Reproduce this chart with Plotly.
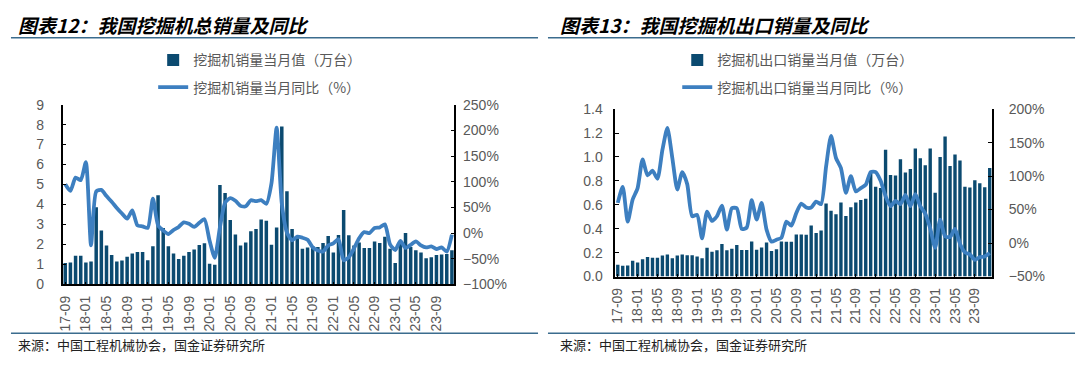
import plotly.graph_objects as go

# ---------------- data ----------------
months = [
    "17-09", "17-10", "17-11", "17-12",
    "18-01", "18-02", "18-03", "18-04", "18-05", "18-06", "18-07", "18-08", "18-09", "18-10", "18-11", "18-12",
    "19-01", "19-02", "19-03", "19-04", "19-05", "19-06", "19-07", "19-08", "19-09", "19-10", "19-11", "19-12",
    "20-01", "20-02", "20-03", "20-04", "20-05", "20-06", "20-07", "20-08", "20-09", "20-10", "20-11", "20-12",
    "21-01", "21-02", "21-03", "21-04", "21-05", "21-06", "21-07", "21-08", "21-09", "21-10", "21-11", "21-12",
    "22-01", "22-02", "22-03", "22-04", "22-05", "22-06", "22-07", "22-08", "22-09", "22-10", "22-11", "22-12",
    "23-01", "23-02", "23-03", "23-04", "23-05", "23-06", "23-07", "23-08", "23-09", "23-10", "23-11", "23-12",
]
tick_labels = months[::4]

# 挖掘机销量当月值（万台）
total_sales = [
    1.07, 1.10, 1.44, 1.44,
    1.10, 1.15, 3.86, 2.70, 1.95, 1.47, 1.15, 1.20, 1.39, 1.55, 1.63, 1.63,
    1.21, 1.91, 4.47, 2.82, 1.91, 1.55, 1.28, 1.44, 1.63, 1.75, 1.98, 2.06,
    1.04, 0.99, 4.98, 4.58, 3.22, 2.50, 1.95, 2.10, 2.66, 2.78, 3.25, 3.19,
    1.99, 2.85, 7.90, 4.66, 2.78, 2.31, 1.79, 1.85, 1.91, 1.87, 2.07, 2.42,
    1.60, 2.47, 3.73, 2.46, 1.95, 2.10, 1.83, 1.83, 2.15, 2.07, 2.39, 1.79,
    1.07, 2.03, 2.58, 1.87, 1.71, 1.60, 1.31, 1.36, 1.47, 1.50, 1.52, 1.71,
]
# 挖掘机销量当月同比（%）
total_yoy = [
    95, 82, 108, 103,
    138, -24, 81, 84, 72, 61, 49, 38, 28, 44, 15, 13,
    10, 67, 15, 5, -2, 6, 12, 21, 18, 12, 20, 27,
    -15, -48, 11, 59, 68, 63, 53, 52, 64, 62, 64, 57,
    97, 205, 58, 1, -14, -7, -9, -13, -28, -34, -36, -24,
    -20, -12, -53, -47, -30, -10, 2, 0, 10, 11, 17, -22,
    -33, -15, -29, -23, -16, -24, -28, -26, -31, -28, -36, -3,
]

# 挖掘机出口销量当月值（万台）
export_sales = [
    0.099, 0.090, 0.093, 0.133,
    0.117, 0.144, 0.163, 0.157, 0.157, 0.176, 0.184, 0.152, 0.176, 0.184, 0.179, 0.179,
    0.168, 0.152, 0.240, 0.208, 0.219, 0.272, 0.219, 0.232, 0.264, 0.221, 0.221, 0.293,
    0.224, 0.243, 0.285, 0.213, 0.229, 0.293, 0.290, 0.290, 0.352, 0.352, 0.349, 0.427,
    0.363, 0.384, 0.610, 0.550, 0.520, 0.620, 0.507, 0.580, 0.620, 0.640, 0.650, 0.880,
    0.750, 0.740, 1.060, 0.850, 0.845, 0.980, 0.870, 0.900, 1.070, 0.990, 0.930, 1.070,
    0.700, 1.000, 1.170, 0.925, 1.020, 0.970, 0.750, 0.745, 0.805, 0.780, 0.747, 0.907,
]
# 挖掘机出口销量当月同比（%）
export_yoy = [
    60, 84, 32, 65,
    82, 125, 101, 108, 96, 139, 172, 127, 80, 106, 88, 40,
    42, 7, 47, 33, 40, 56, 20, 52, 52, 21, 23, 64,
    35, 60, 20, 2, 5, 8, 32, 26, 45, 59, 53, 53,
    62, 58, 114, 160, 127, 112, 75, 100, 77, 82, 87, 106,
    106, 93, 70, 55, 63, 58, 72, 55, 73, 55, 44, 22,
    -7, 35, 10, 9, 21, -1, -14, -17, -25, -21, -20, -15,
]

# ---------------- style ----------------
W, H = 1080, 369
BAR = "#0b4a70"
LINE = "#3d7fc0"
GREY = "#595959"
RULE = "#3b6c8e"
CJK = "Noto Sans CJK SC"
NUM = "Liberation Sans, Arial, sans-serif"


def px_x(v):
    return v / W


def px_y(v):
    return 1 - v / H


fig = go.Figure()

# left panel
fig.add_trace(go.Bar(
    x=months, y=total_sales, name="挖掘机销量当月值（万台）",
    marker=dict(color=BAR, line=dict(width=0)),
    xaxis="x", yaxis="y", legend="legend", legendgroup="a1",
))
fig.add_trace(go.Scatter(
    x=months, y=total_yoy, name="挖掘机销量当月同比（%）", mode="lines",
    line=dict(color=LINE, width=3.8, shape="spline", smoothing=0.6),
    xaxis="x", yaxis="y2", legend="legend", legendgroup="a2",
))
# right panel
fig.add_trace(go.Bar(
    x=months, y=export_sales, name="挖掘机出口销量当月值（万台）",
    marker=dict(color=BAR, line=dict(width=0)),
    xaxis="x2", yaxis="y3", legend="legend2", legendgroup="b1",
))
fig.add_trace(go.Scatter(
    x=months, y=export_yoy, name="挖掘机出口销量当月同比（%）", mode="lines",
    line=dict(color=LINE, width=3.8, shape="spline", smoothing=0.6),
    xaxis="x2", yaxis="y4", legend="legend2", legendgroup="b2",
))

tickfont = dict(family=NUM, size=14, color=GREY)
axis_common = dict(showline=True, linecolor="#000000", linewidth=1.5, ticks="inside",
                   tickcolor="#000000", ticklen=4, showgrid=False, zeroline=False,
                   tickfont=tickfont, fixedrange=True)

xcommon = dict(axis_common, type="category", range=[-0.5, len(months) - 0.5],
               tickmode="array", tickvals=tick_labels, ticktext=tick_labels,
               tickangle=-90, ticklen=3, ticklabelstandoff=4)

L_dom_x = [px_x(57), px_x(451)]
L_dom_y = [px_y(289), px_y(101)]
R_dom_x = [px_x(612.7), px_x(991.7)]
R_dom_y = [px_y(280.7), px_y(105.7)]

legend_common = dict(orientation="v", xanchor="left", yanchor="top",
                     font=dict(family=CJK, size=14, color=GREY),
                     bgcolor="rgba(0,0,0,0)", traceorder="grouped",
                     tracegroupgap=6, itemwidth=30)

fig.update_layout(
    width=W, height=H, autosize=False,
    margin=dict(l=0, r=0, t=0, b=0),
    paper_bgcolor="#ffffff", plot_bgcolor="#ffffff",
    bargap=0.32,
    showlegend=True,
    xaxis=dict(xcommon, domain=L_dom_x, anchor="y"),
    yaxis=dict(axis_common, domain=L_dom_y, anchor="x", range=[0, 9], dtick=1,
               ticklabelstandoff=14),
    yaxis2=dict(axis_common, overlaying="y", side="right", anchor="x",
                range=[-100, 250], dtick=50, ticksuffix="%", ticklabelstandoff=4),
    xaxis2=dict(xcommon, domain=R_dom_x, anchor="y3"),
    yaxis3=dict(axis_common, domain=R_dom_y, anchor="x2", range=[0, 1.4], dtick=0.2,
                tickformat=".1f", ticklabelstandoff=8),
    yaxis4=dict(axis_common, overlaying="y3", side="right", anchor="x2",
                range=[-50, 200], dtick=50, ticksuffix="%", ticklabelstandoff=12),
    legend=dict(legend_common, x=px_x(148), y=px_y(38)),
    legend2=dict(legend_common, x=px_x(675), y=px_y(38)),
    font=dict(family=CJK, color=GREY),
)

# titles
titles = [("图表12：我国挖掘机总销量及同比", 10), ("图表13：我国挖掘机出口销量及同比", 555)]
for text, x0 in titles:
    fig.add_annotation(text=f"<b><i>{text}</i></b>", x=px_x(x0), y=px_y(17),
                       xref="paper", yref="paper", xanchor="left", yanchor="middle",
                       showarrow=False, font=dict(family=CJK, size=19, color="#000000"))

sources = [("来源：中国工程机械协会，国金证券研究所", 10), ("来源：中国工程机械协会，国金证券研究所", 555)]
for text, x0 in sources:
    fig.add_annotation(text=text, x=px_x(x0), y=px_y(352),
                       xref="paper", yref="paper", xanchor="left", yanchor="middle",
                       showarrow=False, font=dict(family=CJK, size=13, color="#222222"))

# rules under titles / above sources
for (a, b) in [(5, 535), (545, 1075)]:
    for yy in (31, 340):
        fig.add_shape(type="line", xref="paper", yref="paper",
                      x0=px_x(a), x1=px_x(b), y0=px_y(yy), y1=px_y(yy),
                      line=dict(color=RULE, width=1.5))

fig.write_html("out.html", config={"displayModeBar": False},
               post_script="document.body.style.margin='0';")
